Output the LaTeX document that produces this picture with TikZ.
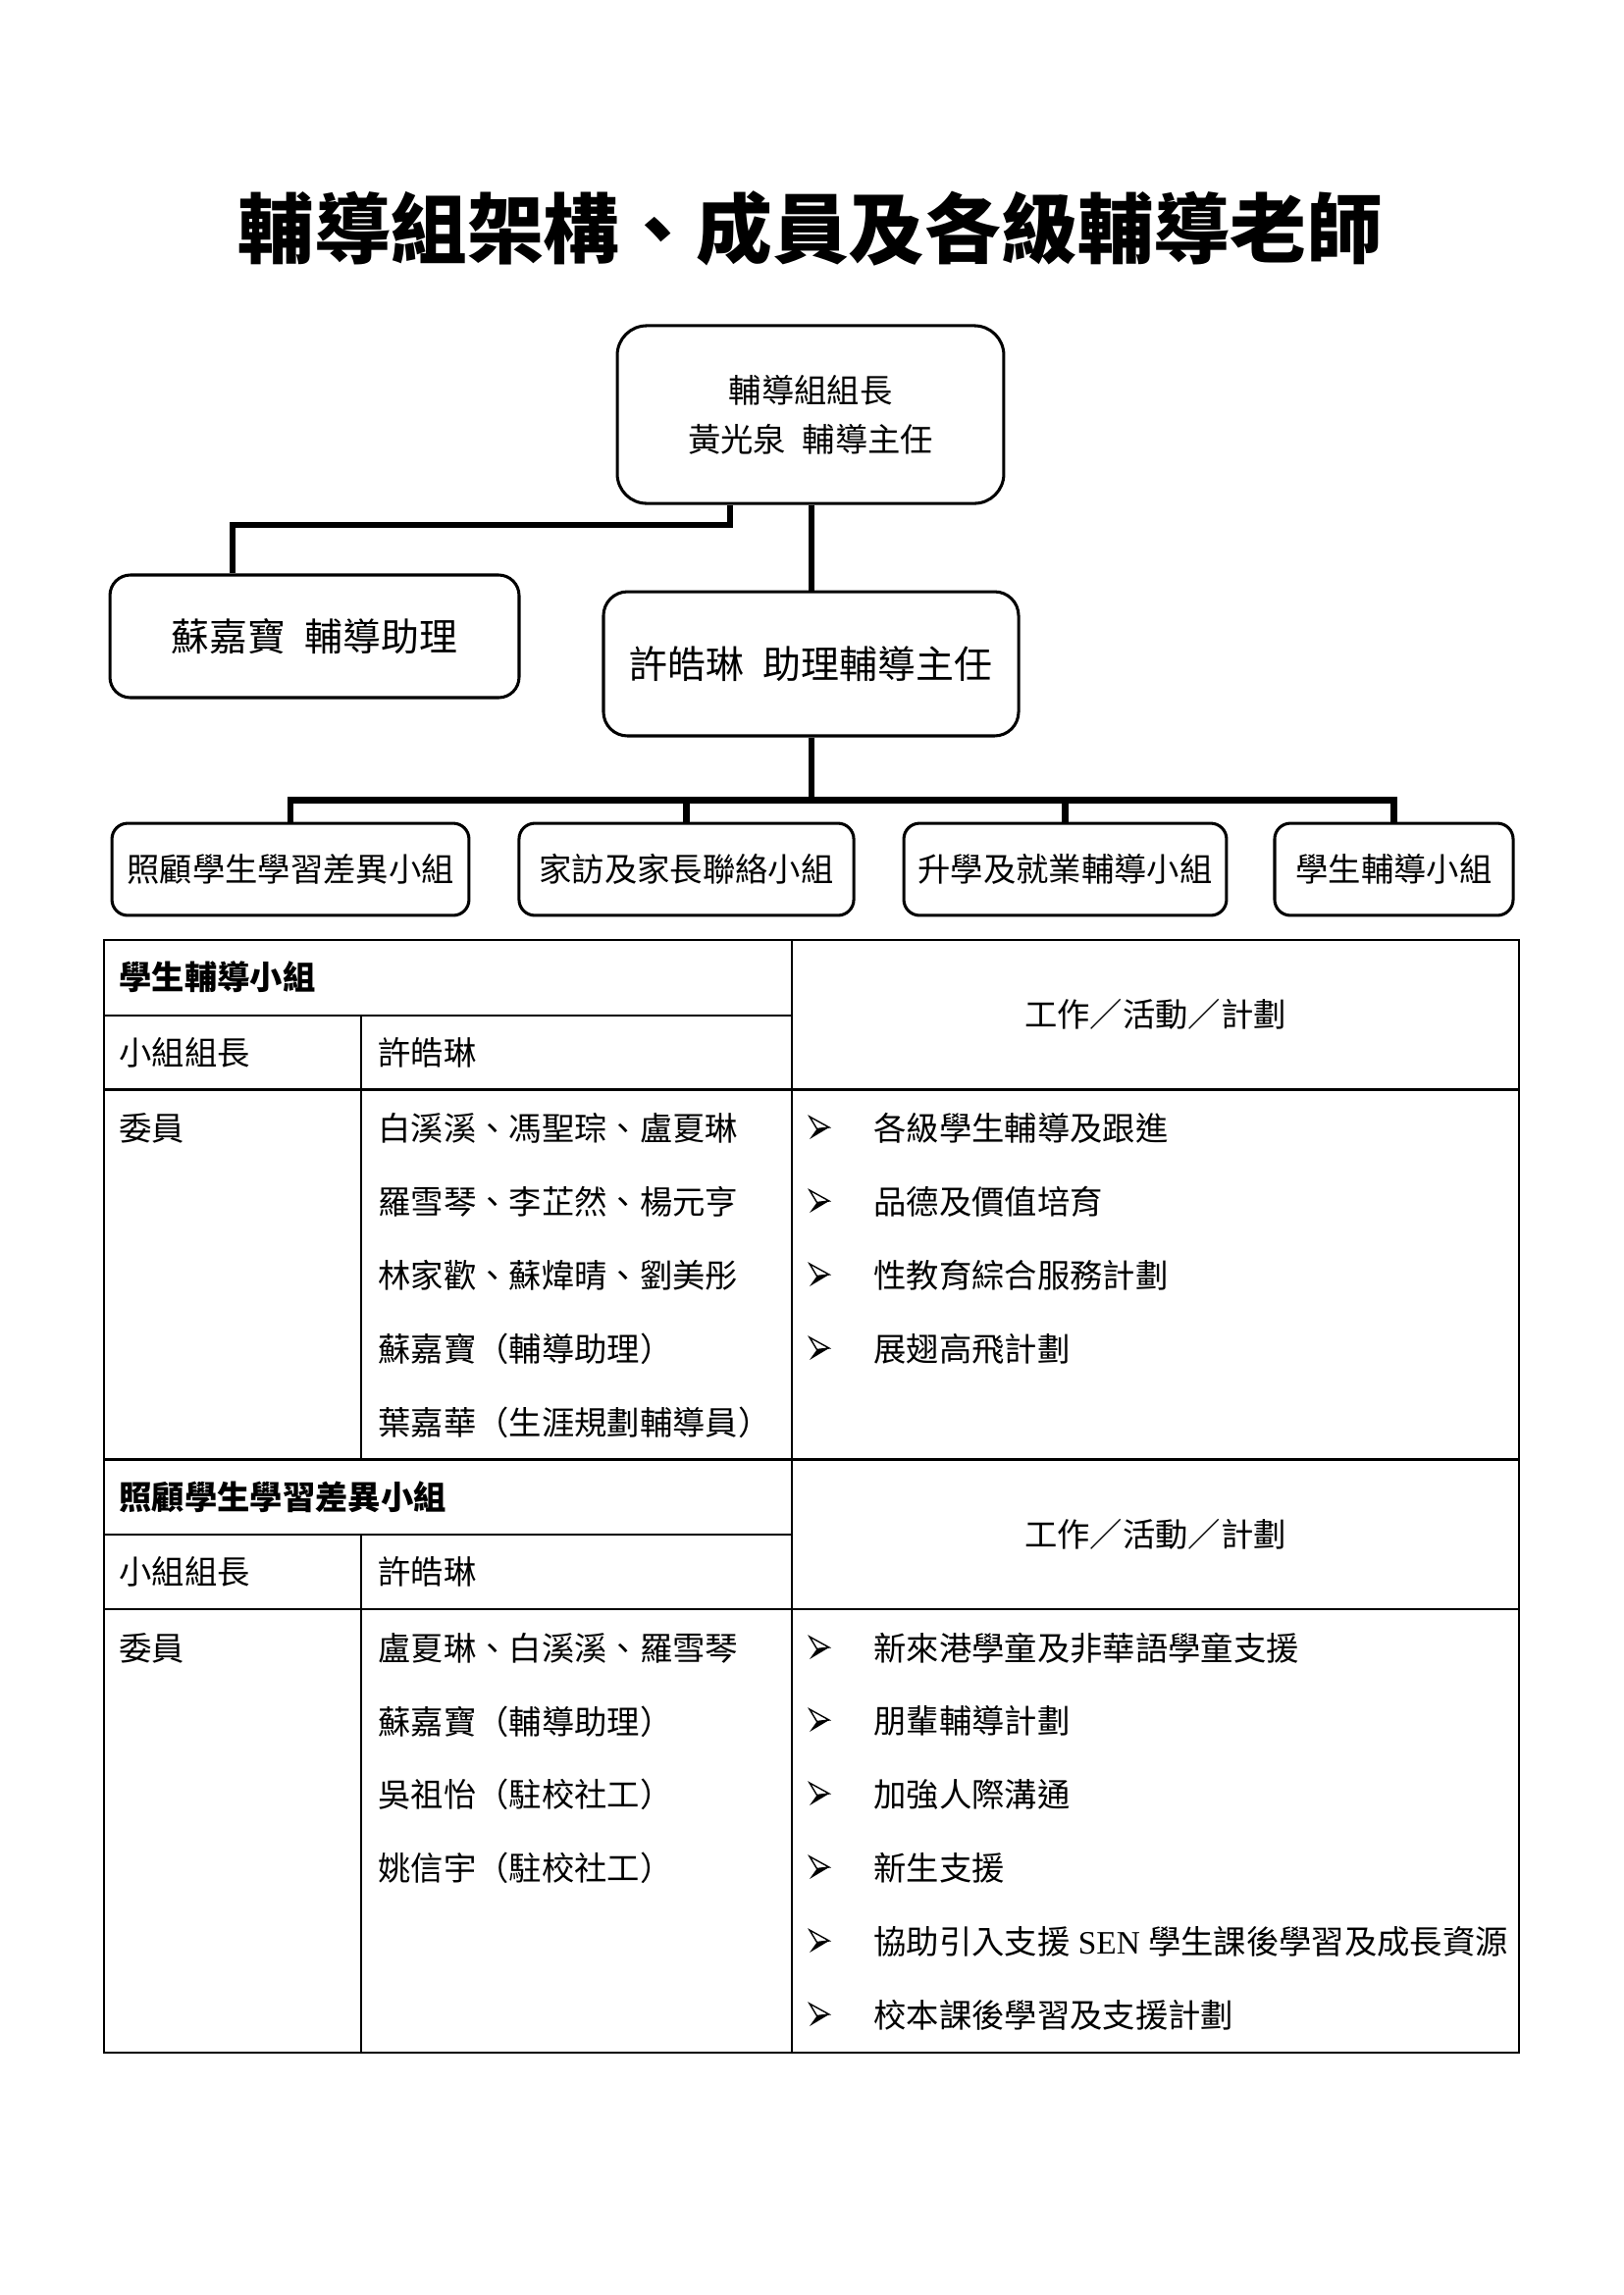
\documentclass[tikz,border=0pt]{standalone}
\usepackage{fontspec}
\setmainfont{Noto Sans CJK TC}
\newfontfamily\latfont{Liberation Serif}
\usetikzlibrary{calc}
\tikzset{
  box/.style={draw, line width=1.1pt, inner sep=0pt, align=center},
  conn/.style={line width=2.3pt, line join=miter},
  tbl/.style={line width=1pt},
  txt/.style={anchor=west, inner sep=0pt, font=\fontsize{12}{14}\selectfont},
  hd/.style={anchor=west, inner sep=0pt, font=\fontsize{12}{14}\selectfont\bfseries},
  ctr/.style={inner sep=0pt, font=\fontsize{12}{14}\selectfont},
  arrowbul/.pic={
    \fill (-10,12) -- (10,0) -- (-2.5,1.5) -- cycle;
    \draw[line width=0.5pt, line join=miter] (-10,-11) -- (10,0) -- (-2.5,1.5) -- cycle;
  }
}
\begin{document}
\begin{tikzpicture}[x=0.36pt,y=-0.36pt]
\useasboundingbox (0,0) rectangle (1654,2339);

% title
\node[inner sep=0pt, font=\fontsize{28}{34}\selectfont\bfseries] (title) at (826,233) {輔導組架構、成員及各級輔導老師};

% org chart boxes
\node[box, rounded corners=10.8pt, minimum width=141.8pt, minimum height=65.2pt,
      font=\fontsize{12}{18}\selectfont] (top) at (826,422.5)
      {輔導組組長\\黃光泉\hspace{0.5em}輔導主任};
\node[box, rounded corners=7.5pt, minimum width=150.1pt, minimum height=45pt,
      font=\fontsize{14}{16}\selectfont] (assist) at (320.5,648.5)
      {蘇嘉寶\hspace{0.5em}輔導助理};
\node[box, rounded corners=8.8pt, minimum width=152.3pt, minimum height=52.9pt,
      font=\fontsize{14}{16}\selectfont] (deputy) at (826.5,676.5)
      {許皓琳\hspace{0.5em}助理輔導主任};
\node[box, rounded corners=5.8pt, minimum width=131pt, minimum height=33.8pt,
      font=\fontsize{12}{14}\selectfont] (g1) at (296,886) {照顧學生學習差異小組};
\node[box, rounded corners=5.8pt, minimum width=122.8pt, minimum height=33.8pt,
      font=\fontsize{12}{14}\selectfont] (g2) at (699.5,886) {家訪及家長聯絡小組};
\node[box, rounded corners=5.8pt, minimum width=118.4pt, minimum height=33.8pt,
      font=\fontsize{12}{14}\selectfont] (g3) at (1085.5,886) {升學及就業輔導小組};
\node[box, rounded corners=5.8pt, minimum width=87.5pt, minimum height=33.8pt,
      font=\fontsize{12}{14}\selectfont] (g4) at (1420.5,886) {學生輔導小組};

% connectors
\coordinate (j1) at (744,535);
\coordinate (j2) at (237,535);
\coordinate (bus) at (827,815.5);
\draw[conn] (top.south -| j1) -- (j1) -- (j2) -- (j2 |- assist.north);
\draw[conn] (top.south -| bus) -- (deputy.north -| bus);
\draw[conn] (deputy.south -| bus) -- (bus);
\draw[conn] (g1.north) -- (g1.north |- bus) -- (g4.north |- bus) -- (g4.north);
\draw[conn] (g2.north) -- (g2.north |- bus);
\draw[conn] (g3.north) -- (g3.north |- bus);

% table grid
\draw[tbl] (106,958) rectangle (1548,2092);
\draw[tbl] (807,958) -- (807,2092);
\draw[tbl] (106,1035) -- (807,1035);
\draw[tbl] (106,1110.7) -- (1548,1110.7);
\draw[tbl] (368,1035) -- (368,1487.5);
\draw[tbl] (106,1487.5) -- (1548,1487.5);
\draw[tbl] (106,1564) -- (807,1564);
\draw[tbl] (106,1640) -- (1548,1640);
\draw[tbl] (368,1564) -- (368,2092);

% section 1
\node[hd] (s1h) at (121,996) {學生輔導小組};
\node[ctr] (s1w) at (1177.5,1034) {工作／活動／計劃};
\node[txt] (s1l) at (121,1073) {小組組長};
\node[txt] (s1ln) at (385,1073) {許皓琳};
\node[txt] (s1m) at (121,1150) {委員};
\node[txt] (s1a) at (385,1150) {白溪溪、馮聖琮、盧夏琳};
\node[txt] (s1b) at (385,1225) {羅雪琴、李芷然、楊元亨};
\node[txt] (s1c) at (385,1300) {林家歡、蘇煒晴、劉美彤};
\node[txt] (s1d) at (385,1375) {蘇嘉寶（輔導助理）};
\node[txt] (s1e) at (385,1450) {葉嘉華（生涯規劃輔導員）};
\pic at (835,1149) {arrowbul};
\pic at (835,1224) {arrowbul};
\pic at (835,1299) {arrowbul};
\pic at (835,1374) {arrowbul};
\node[txt] (t1a) at (890,1150) {各級學生輔導及跟進};
\node[txt] (t1b) at (890,1225) {品德及價值培育};
\node[txt] (t1c) at (890,1300) {性教育綜合服務計劃};
\node[txt] (t1d) at (890,1375) {展翅高飛計劃};

% section 2
\node[hd] (s2h) at (121,1526) {照顧學生學習差異小組};
\node[ctr] (s2w) at (1177.5,1564) {工作／活動／計劃};
\node[txt] (s2l) at (121,1602) {小組組長};
\node[txt] (s2ln) at (385,1602) {許皓琳};
\node[txt] (s2m) at (121,1680) {委員};
\node[txt] (s2a) at (385,1680) {盧夏琳、白溪溪、羅雪琴};
\node[txt] (s2b) at (385,1755) {蘇嘉寶（輔導助理）};
\node[txt] (s2c) at (385,1829) {吳祖怡（駐校社工）};
\node[txt] (s2d) at (385,1904) {姚信宇（駐校社工）};
\pic at (835,1679) {arrowbul};
\pic at (835,1753) {arrowbul};
\pic at (835,1828) {arrowbul};
\pic at (835,1903) {arrowbul};
\pic at (835,1978) {arrowbul};
\pic at (835,2053) {arrowbul};
\node[txt] (t2a) at (890,1680) {新來港學童及非華語學童支援};
\node[txt] (t2b) at (890,1754) {朋輩輔導計劃};
\node[txt] (t2c) at (890,1829) {加強人際溝通};
\node[txt] (t2d) at (890,1904) {新生支援};
\node[txt] (t2e) at (890,1979) {協助引入支援{\latfont\ SEN\ }學生課後學習及成長資源};
\node[txt] (t2f) at (890,2054) {校本課後學習及支援計劃};
\end{tikzpicture}
\end{document}
